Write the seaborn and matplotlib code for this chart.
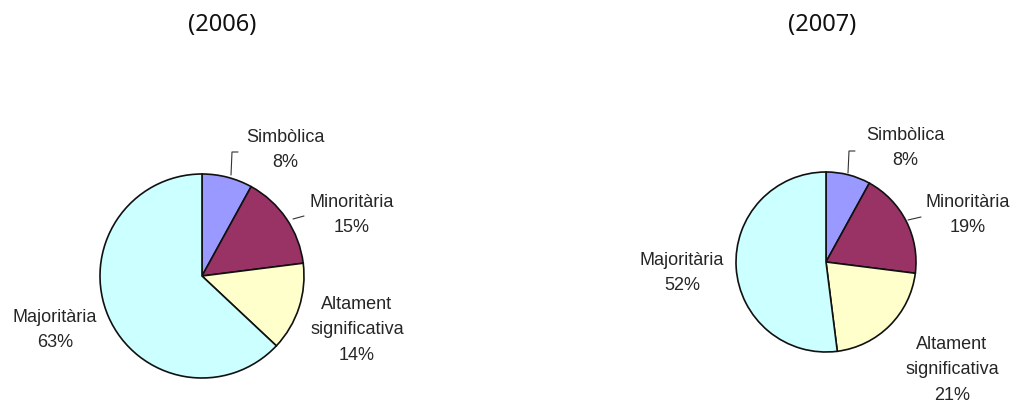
import matplotlib
matplotlib.use("Agg")
import matplotlib.pyplot as plt
import seaborn as sns

sns.set_theme(style="white")
plt.rcParams['font.family'] = ['Liberation Sans', 'DejaVu Sans']

# ---- data ----
categories = ["Simbòlica", "Minoritària", "Altament\nsignificativa", "Majoritària"]
values_2006 = [8, 15, 14, 63]
values_2007 = [8, 19, 21, 52]
titles = ["(2006)", "(2007)"]
colors = ["#9999FF", "#993366", "#FFFFCC", "#CCFFFF"]

W, H = 1021, 408
fig = plt.figure(figsize=(W / 100, H / 100), dpi=100)
ax = fig.add_axes([0, 0, 1, 1])

def py(y):
    return H - y

# layout (pixel positions)
pies = [
    dict(vals=values_2006, center=(202, py(276)), r=102, title_xy=(222, 25),
         label_xy=[(285, 150), (352, 215), (357, 330), (55, 330)],
         leaders=[[(238, 152), (232, 152), (231, 175)], [(293, 219), (304, 216)]]),
    dict(vals=values_2007, center=(826, py(262)), r=90, title_xy=(822, 25),
         label_xy=[(905, 148), (968, 215), (952, 370), (682, 273)],
         leaders=[[(855, 151), (849, 151), (848, 173)], [(908, 220), (921, 217)]]),
]

for i, p in enumerate(pies):
    ax.pie(p["vals"], colors=colors, startangle=90, counterclock=False,
           center=p["center"], radius=p["r"], frame=True,
           wedgeprops=dict(edgecolor="#111111", linewidth=1.2))
    tx, ty = p["title_xy"]
    ax.text(tx, py(ty), titles[i], ha="center", va="center", fontsize=17,
            family=["Noto Sans", "DejaVu Sans"], color="#111111")
    for (lx, ly), cat, v in zip(p["label_xy"], categories, p["vals"]):
        ax.text(lx, py(ly), f"{cat}\n{v}%", ha="center", va="center",
                fontsize=13, color="#262626", linespacing=1.65)
    for pts in p["leaders"]:
        xs = [q[0] for q in pts]
        ys = [py(q[1]) for q in pts]
        ax.plot(xs, ys, color="#333333", linewidth=0.8)

ax.set_xlim(0, W)
ax.set_ylim(0, H)
ax.set_aspect("equal")
ax.axis("off")
fig.savefig("out.png", dpi=100, facecolor="white")
